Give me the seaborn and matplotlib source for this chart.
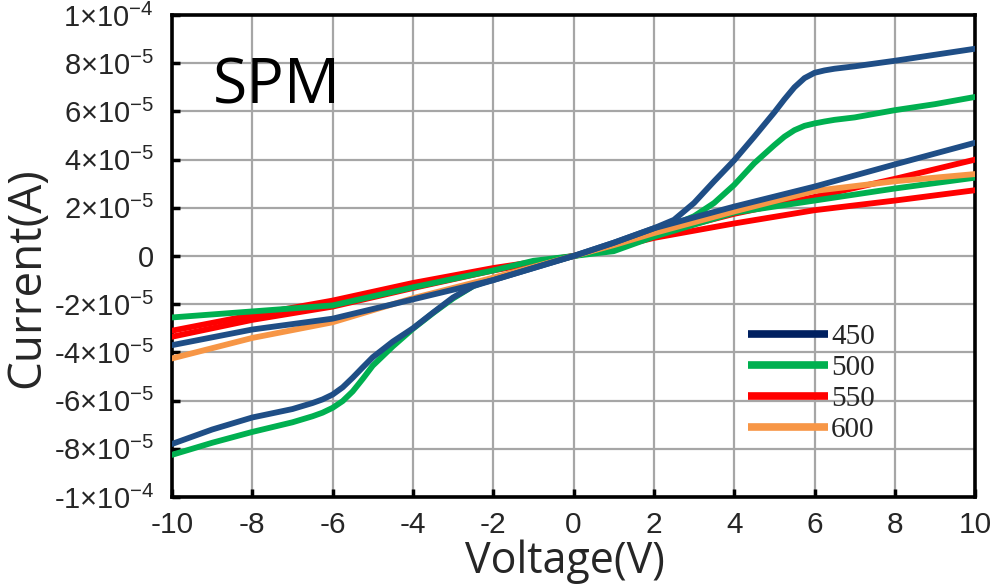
import matplotlib
matplotlib.use("Agg")
import matplotlib.pyplot as plt
import seaborn as sns
import pandas as pd
from matplotlib.lines import Line2D

# ---- data (current in units of 1e-5 A) ----
v_nl = [-10, -9, -8, -7, -6.5, -6.25, -6, -5.75, -5.5, -5.25, -5, -4.5, -4, -3.5, -3, -2.5, -2, -1, 0,
        1, 2, 2.5, 3, 3.5, 4, 4.5, 5, 5.25, 5.5, 5.75, 6, 6.25, 6.5, 7, 8, 9, 10]
i_450_a = [-7.8, -7.2, -6.7, -6.35, -6.1, -5.95, -5.75, -5.45, -5.05, -4.62, -4.2, -3.55, -3.0, -2.35, -1.72, -1.25, -1.0, -0.5, 0,
           0.55, 1.15, 1.5, 2.2, 3.1, 3.97, 4.95, 5.96, 6.5, 7.0, 7.38, 7.6, 7.7, 7.77, 7.87, 8.1, 8.35, 8.6]
i_500_a = [-8.25, -7.75, -7.3, -6.9, -6.65, -6.5, -6.3, -6.02, -5.62, -5.1, -4.55, -3.75, -3.02, -2.37, -1.76, -1.25, -0.95, -0.45, 0,
           0.3, 0.9, 1.3, 1.65, 2.2, 2.95, 3.85, 4.6, 4.95, 5.22, 5.4, 5.5, 5.58, 5.65, 5.75, 6.05, 6.3, 6.6]

v_lin = [-10, -8, -6, -4, -2, -1, 0, 1, 2, 4, 6, 8, 10]
i_450_b = [-3.7, -3.05, -2.6, -1.8, -1.0, -0.5, 0, 0.55, 1.15, 2.05, 2.88, 3.8, 4.7]
i_500_b = [-2.55, -2.3, -2.05, -1.3, -0.6, -0.2, 0, 0.2, 0.8, 1.8, 2.3, 2.8, 3.25]
i_550_a = [-3.35, -2.65, -2.1, -1.33, -0.6, -0.3, 0, 0.4, 0.9, 1.75, 2.45, 3.2, 4.0]
i_550_b = [-3.1, -2.45, -1.85, -1.12, -0.5, -0.25, 0, 0.35, 0.75, 1.35, 1.9, 2.3, 2.73]
i_600 = [-4.25, -3.4, -2.75, -1.75, -0.9, -0.45, 0, 0.45, 0.95, 1.85, 2.7, 3.1, 3.4]

legend_labels = ["450", "500", "550", "600"]
x_ticks = [-10, -8, -6, -4, -2, 0, 2, 4, 6, 8, 10]
y_tick_mant = [-1, -8, -6, -4, -2, 0, 2, 4, 6, 8, 1]
y_tick_exp = [-4, -5, -5, -5, -5, 0, -5, -5, -5, -5, -4]

curve_color = {"450": "#1f4e86", "500": "#00b050", "550": "#ff0000", "600": "#f79646"}
legend_color = {"450": "#002060", "500": "#00b050", "550": "#ff0000", "600": "#f79646"}


def frame(v, i, temp, cid):
    return pd.DataFrame({"V": v, "I": [c * 1e-5 for c in i], "temp": temp, "curve": cid})


curves = [
    frame(v_lin, i_550_a, "550", "550a"),
    frame(v_lin, i_550_b, "550", "550b"),
    frame(v_lin, i_500_b, "500", "500b"),
    frame(v_nl, i_500_a, "500", "500a"),
    frame(v_lin, i_600, "600", "600"),
    frame(v_lin, i_450_b, "450", "450b"),
    frame(v_nl, i_450_a, "450", "450a"),
]

sns.set_style("white")
plt.rcParams["mathtext.fontset"] = "custom"
plt.rcParams["mathtext.rm"] = "Liberation Sans"
plt.rcParams["mathtext.default"] = "regular"

fig = plt.figure(figsize=(9.9, 5.85), dpi=100)
ax = fig.add_axes([0.1737, 0.1504, 0.8113, 0.824])

for df in curves:
    sns.lineplot(data=df, x="V", y="I", color=curve_color[df["temp"].iloc[0]],
                 linewidth=4.2, sort=False, estimator=None, ax=ax, legend=False,
                 solid_capstyle="round", solid_joinstyle="round", zorder=3)

ax.set_xlim(-10, 10)
ax.set_ylim(-1e-4, 1e-4)
ax.set_xticks(x_ticks)
ax.set_xticklabels([str(t) for t in x_ticks], fontfamily="Liberation Sans", fontsize=21.5)
yt = [m * 10.0 ** e if m != 0 else 0 for m, e in zip(y_tick_mant, y_tick_exp)]
ylabels = ["0" if m == 0 else "%d×10$^{-%d}$" % (m, -e) for m, e in zip(y_tick_mant, y_tick_exp)]
ax.set_yticks(yt)
ax.set_yticklabels(ylabels, fontfamily="Liberation Sans", fontsize=21)

ax.grid(True, color="#a6a6a6", linewidth=1.6, zorder=0)
ax.set_axisbelow(True)
for s in ax.spines.values():
    s.set_color("black")
    s.set_linewidth(2.6)
    s.set_visible(True)
ax.tick_params(axis="both", which="major", direction="in", length=6, width=2.5,
               color="black", left=True, bottom=True, top=False, right=False)
ax.tick_params(axis="y", pad=13)
ax.tick_params(axis="x", pad=10)

ax.set_xlabel("Voltage(V)", fontfamily="Open Sans", fontsize=31)
ax.set_ylabel("Current(A)", fontfamily="Open Sans", fontsize=33)
ax.xaxis.set_label_coords(0.489, -0.088)
ax.yaxis.set_label_coords(-0.152, 0.455)

ax.text(0.051, 0.817, "SPM", transform=ax.transAxes, fontfamily="Open Sans",
        fontsize=45, ha="left", va="baseline", color="black")

handles = [Line2D([0], [0], color=legend_color[k], linewidth=5.5, solid_capstyle="butt")
           for k in legend_labels]
leg = ax.legend(handles, legend_labels, loc="upper left", bbox_to_anchor=(0.717, 0.36),
                frameon=False, prop={"family": "Liberation Serif", "size": 21},
                handlelength=2.75, handletextpad=0.1, labelspacing=0.16, borderpad=0,
                borderaxespad=0)

fig.savefig("out.png", dpi=100)
